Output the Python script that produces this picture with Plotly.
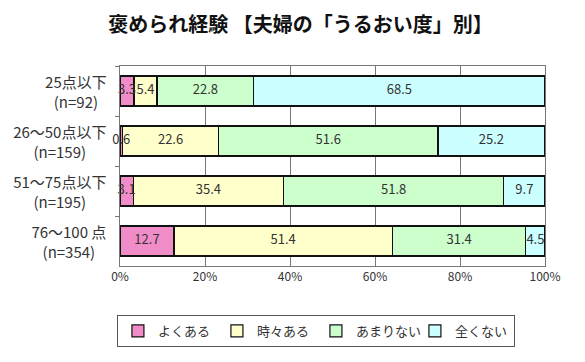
import plotly.graph_objects as go

cat_line1 = ["25点以下", "26～50点以下", "51～75点以下", "76～100 点"]
cat_line2 = ["(n=92)", "(n=159)", "(n=195)", "(n=354)"]
categories = [f"{a} {b}" for a, b in zip(cat_line1, cat_line2)]
series_names = ["よくある", "時々ある", "あまりない", "全くない"]
often = [3.3, 0.6, 3.1, 12.7]
sometimes = [5.4, 22.6, 35.4, 51.4]
rarely = [22.8, 51.6, 51.8, 31.4]
never = [68.5, 25.2, 9.7, 4.5]
x_ticks = [0, 20, 40, 60, 80, 100]
x_tick_labels = ["0%", "20%", "40%", "60%", "80%", "100%"]

colors = ["#F08CC8", "#FFFFCC", "#CCFFCC", "#CCFFFF"]
FONT = "Noto Sans CJK JP"
LABEL_SIZE = 15


def text_width(s, size):
    # rough width estimate: ASCII ~0.55em, space ~0.25em, full-width 1em
    w = 0.0
    for ch in s:
        if ch == " ":
            w += 0.25
        elif ord(ch) < 128:
            w += 0.56
        else:
            w += 1.0
    return w * size


series = [often, sometimes, rarely, never]
fig = go.Figure()
for name, vals, col in zip(series_names, series, colors):
    fig.add_trace(go.Bar(
        y=categories, x=vals, name=name, orientation="h",
        marker=dict(color=col, line=dict(color="#111111", width=1.2)),
        width=0.6,
    ))

# data labels centred on each segment
base = [0.0] * len(categories)
lx, ly, lt = [], [], []
for vals in series:
    for i, v in enumerate(vals):
        lx.append(base[i] + v / 2)
        ly.append(categories[i])
        lt.append(f"{v}")
        base[i] += v
fig.add_trace(go.Scatter(
    x=lx, y=ly, text=lt, mode="text", showlegend=False, hoverinfo="skip",
    textfont=dict(family=FONT, size=13, color="#333333"), cliponaxis=False,
))

# two-line category labels: block right-aligned at the axis, lines centred on each other
for c, l1, l2 in zip(categories, cat_line1, cat_line2):
    w = text_width(l1, LABEL_SIZE) + 2
    for txt, dy in ((l1, 10), (l2, -10)):
        fig.add_annotation(
            text=txt, x=0, xref="paper", y=c, yref="y", showarrow=False,
            xanchor="right", xshift=-10, yshift=dy, width=w, align="center",
            font=dict(family=FONT, size=LABEL_SIZE, color="#333333"),
        )

fig.update_layout(
    barmode="stack",
    width=585, height=362,
    margin=dict(l=112, r=48, t=58, b=104),
    paper_bgcolor="white", plot_bgcolor="white",
    title=dict(text="<b>褒められ経験 【夫婦の「うるおい度」別】</b>", x=0.5, xanchor="center",
               y=1 - 17 / 362, yanchor="middle",
               font=dict(family=FONT, size=20, color="#111111")),
    font=dict(family=FONT, color="#333333"),
    bargap=0.4,
    showlegend=True,
    legend=dict(orientation="h", x=0.461, xanchor="center", y=-0.245, yanchor="top",
                bordercolor="#555555", borderwidth=1, bgcolor="white",
                font=dict(family=FONT, size=13, color="#333333"),
                entrywidth=54, traceorder="normal", itemwidth=30),
    xaxis=dict(range=[0, 100], tickvals=x_ticks, ticktext=x_tick_labels,
               showgrid=True, gridcolor="#777777", gridwidth=1,
               showline=True, linecolor="#777777", mirror=True,
               ticks="", zeroline=False, automargin=False,
               tickfont=dict(family=FONT, size=12, color="#333333")),
    yaxis=dict(autorange="reversed", showticklabels=False, automargin=False,
               showline=True, linecolor="#777777", mirror=True,
               ticks="outside", tickson="boundaries", ticklen=4, tickcolor="#777777"),
)

fig.write_html("out.html")
